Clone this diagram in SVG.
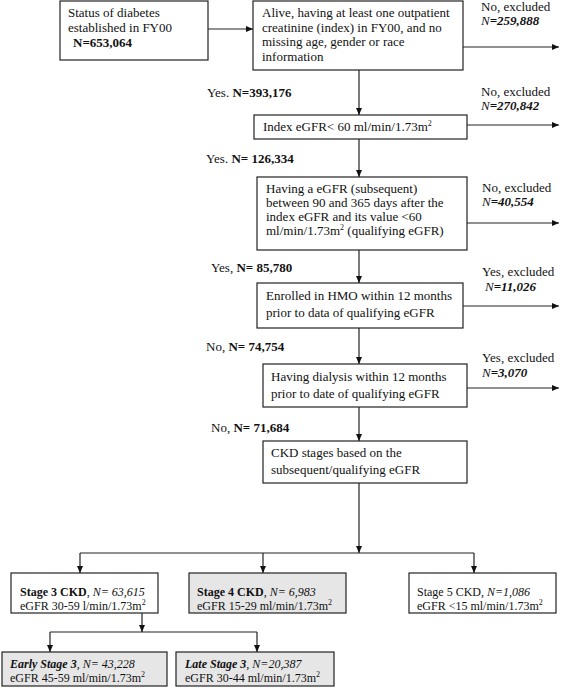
<svg xmlns="http://www.w3.org/2000/svg" width="567" height="688" viewBox="0 0 567 688">
<style>
text{font-family:"Liberation Serif","Times New Roman",serif;font-size:13px;fill:#111}
.sm text{font-size:12px}
.box{fill:#fff;stroke:#222;stroke-width:1.2}
.gray{fill:#e6e6e6;stroke:#222;stroke-width:1.2}
.b{font-weight:bold}
.i{font-style:italic}
.bi{font-weight:bold;font-style:italic}
.sup{font-size:8px}
#connectors line{stroke:#222;stroke-width:1.2;fill:none}
</style>
<defs>
<marker id="ah" markerUnits="userSpaceOnUse" markerWidth="7" markerHeight="6" refX="7" refY="3" orient="auto">
<path d="M0,0 L7,3 L0,6 z" fill="#111"/>
</marker>
</defs>
<rect width="567" height="688" fill="#fff"/>
<g id="connectors">
<line x1="208" y1="29" x2="253" y2="29" marker-end="url(#ah)"/>
<line x1="463" y1="47" x2="559" y2="47" marker-end="url(#ah)"/>
<line x1="359" y1="70" x2="359" y2="115" marker-end="url(#ah)"/>
<line x1="467" y1="125" x2="559" y2="125" marker-end="url(#ah)"/>
<line x1="359" y1="139" x2="359" y2="177" marker-end="url(#ah)"/>
<line x1="467" y1="223" x2="559" y2="223" marker-end="url(#ah)"/>
<line x1="359" y1="250" x2="359" y2="283" marker-end="url(#ah)"/>
<line x1="463" y1="306" x2="559" y2="306" marker-end="url(#ah)"/>
<line x1="359" y1="328" x2="359" y2="364" marker-end="url(#ah)"/>
<line x1="467" y1="388" x2="559" y2="388" marker-end="url(#ah)"/>
<line x1="359" y1="407" x2="359" y2="441" marker-end="url(#ah)"/>
<line x1="359" y1="483" x2="359" y2="553" marker-end="url(#ah)"/>
<line x1="80" y1="553" x2="474" y2="553"/>
<line x1="80" y1="553" x2="80" y2="573" marker-end="url(#ah)"/>
<line x1="263" y1="553" x2="263" y2="573" marker-end="url(#ah)"/>
<line x1="474" y1="553" x2="474" y2="573" marker-end="url(#ah)"/>
<line x1="142" y1="613" x2="142" y2="632" marker-end="url(#ah)"/>
<line x1="50" y1="632" x2="257" y2="632"/>
<line x1="50" y1="632" x2="50" y2="652" marker-end="url(#ah)"/>
<line x1="257" y1="632" x2="257" y2="652" marker-end="url(#ah)"/>
</g>
<g id="labels">
<text x="207" y="97">Yes. <tspan class="b">N=393,176</tspan></text>
<text x="481" y="11">No, excluded</text>
<text x="481" y="25"><tspan class="i">N</tspan><tspan class="bi">=259,888</tspan></text>
<text x="481" y="96">No, excluded</text>
<text x="481" y="110"><tspan class="i">N</tspan><tspan class="bi">=270,842</tspan></text>
<text x="206" y="163">Yes. <tspan class="b">N= 126,334</tspan></text>
<text x="482" y="192">No, excluded</text>
<text x="482" y="206"><tspan class="i">N</tspan><tspan class="bi">=40,554</tspan></text>
<text x="211" y="272">Yes, <tspan class="b">N= 85,780</tspan></text>
<text x="482" y="276">Yes, excluded</text>
<text x="485" y="291"><tspan class="i">N</tspan><tspan class="bi">=11,026</tspan></text>
<text x="206" y="351">No, <tspan class="b">N= 74,754</tspan></text>
<text x="482" y="362">Yes, excluded</text>
<text x="482" y="377"><tspan class="i">N</tspan><tspan class="bi">=3,070</tspan></text>
<text x="211" y="432">No, <tspan class="b">N= 71,684</tspan></text>
</g>
<g id="n1">
<rect class="box" x="60" y="1" width="148" height="59"/>
<text x="68" y="17">Status of diabetes</text>
<text x="68" y="32">established in FY00</text>
<text x="73" y="47" class="b">N=653,064</text>
</g>
<g id="n2">
<rect class="box" x="253" y="1" width="210" height="69"/>
<text x="262" y="17">Alive, having at least one outpatient</text>
<text x="262" y="31.5">creatinine (index) in FY00, and no</text>
<text x="262" y="46">missing age, gender or race</text>
<text x="262" y="60.5">information</text>
</g>
<g id="n3">
<rect class="box" x="254" y="115" width="213" height="24"/>
<text x="263" y="131">Index eGFR&lt; 60 ml/min/1.73m<tspan class="sup" dy="-5">2</tspan></text>
</g>
<g id="n4">
<rect class="box" x="257" y="177" width="210" height="73"/>
<text x="266" y="193">Having a eGFR (subsequent)</text>
<text x="266" y="207">between 90 and 365 days after the</text>
<text x="266" y="221">index eGFR and its value &lt;60</text>
<text x="266" y="235">ml/min/1.73m<tspan class="sup" dy="-5">2</tspan><tspan dy="5"> (qualifying eGFR)</tspan></text>
</g>
<g id="n5">
<rect class="box" x="257" y="283" width="206" height="45"/>
<text x="266" y="300">Enrolled in HMO within 12 months</text>
<text x="266" y="317">prior to data of qualifying eGFR</text>
</g>
<g id="n6">
<rect class="box" x="263" y="364" width="204" height="43"/>
<text x="271" y="381">Having dialysis within 12 months</text>
<text x="271" y="398">prior to date of qualifying eGFR</text>
</g>
<g id="n7">
<rect class="box" x="263" y="441" width="204" height="42"/>
<text x="271" y="457">CKD stages based on the</text>
<text x="271" y="474">subsequent/qualifying eGFR</text>
</g>
<g id="n8" class="sm">
<rect class="box" x="11" y="573" width="147" height="40"/>
<text x="20" y="596"><tspan class="b">Stage 3 CKD</tspan>, <tspan class="i">N= 63,615</tspan></text>
<text x="20" y="610">eGFR 30-59 l/min/1.73m<tspan class="sup" dy="-5">2</tspan></text>
</g>
<g id="n9" class="sm">
<rect class="gray" x="189" y="573" width="157" height="40"/>
<text x="197" y="596"><tspan class="b">Stage 4 CKD</tspan>, <tspan class="i">N= 6,983</tspan></text>
<text x="197" y="610">eGFR 15-29 ml/min/1.73m<tspan class="sup" dy="-5">2</tspan></text>
</g>
<g id="n10" class="sm">
<rect class="box" x="409" y="573" width="147" height="40"/>
<text x="417" y="596">Stage 5 CKD, <tspan class="i">N=1,086</tspan></text>
<text x="417" y="610">eGFR &lt;15 ml/min/1.73m<tspan class="sup" dy="-5">2</tspan></text>
</g>
<g id="n11" class="sm">
<rect class="gray" x="2" y="652" width="165" height="34"/>
<text x="10" y="668"><tspan class="bi">Early Stage 3</tspan>, <tspan class="i">N= 43,228</tspan></text>
<text x="10" y="682">eGFR 45-59 ml/min/1.73m<tspan class="sup" dy="-5">2</tspan></text>
</g>
<g id="n12" class="sm">
<rect class="gray" x="176" y="652" width="158" height="34"/>
<text x="185" y="668"><tspan class="bi">Late Stage 3</tspan>, <tspan class="i">N=20,387</tspan></text>
<text x="185" y="682">eGFR 30-44 ml/min/1.73m<tspan class="sup" dy="-5">2</tspan></text>
</g>
</svg>
